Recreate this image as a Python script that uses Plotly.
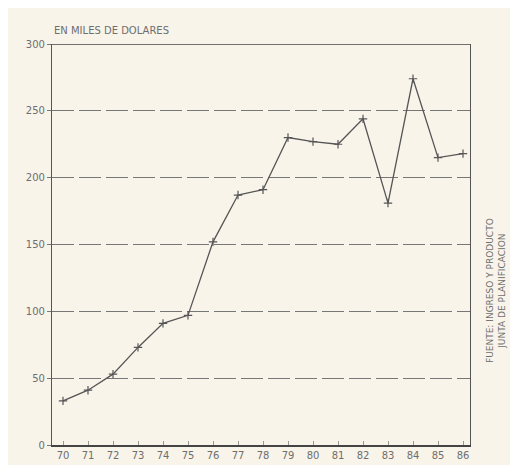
import plotly.graph_objects as go

years = list(range(70, 87))
year_labels = [str(y) for y in years]
values = [33, 41, 53, 73, 91, 97, 152, 187, 191, 230, 227, 225, 244, 181, 274, 215, 218]
y_ticks = [0, 50, 100, 150, 200, 250, 300]

grey = "#6e6e6e"
fig = go.Figure()
fig.add_trace(go.Scatter(
    x=years, y=values, mode="lines+markers",
    line=dict(color="#555555", width=1.3),
    marker=dict(symbol="cross-thin", size=6, line=dict(color="#555555", width=1.2)),
    showlegend=False,
))

fig.update_layout(
    width=518, height=465,
    margin=dict(l=44, r=56, t=36, b=20),
    paper_bgcolor="#f8f4ea", plot_bgcolor="#f8f4ea",
    font=dict(family="DejaVu Sans", size=10, color=grey),
    xaxis=dict(
        range=[69.56, 86.28], tickmode="array", tickvals=years, ticktext=year_labels,
        showgrid=False, zeroline=False, showline=True, linecolor="#444444", linewidth=1.5,
        mirror=False, ticks="inside", ticklen=4, tickcolor="#999999",
        tickfont=dict(size=10, color=grey),
    ),
    yaxis=dict(
        range=[0, 300], tickmode="array", tickvals=y_ticks,
        showgrid=True, gridcolor="#777777", griddash="22px,5px", gridwidth=1,
        zeroline=False, showline=True, linecolor="#555555", linewidth=1.2, mirror=True,
        ticks="outside", ticklen=4, tickcolor="#777777",
        tickfont=dict(size=10, color=grey),
    ),
    annotations=[
        dict(text="EN MILES DE DOLARES", x=0, y=1, xref="paper", yref="paper",
             xanchor="left", yanchor="bottom", yshift=6, showarrow=False,
             font=dict(size=10, color=grey)),
        dict(text="FUENTE: INGRESO Y PRODUCTO<br>JUNTA DE PLANIFICACION",
             x=1, y=0.384, xref="paper", yref="paper", xanchor="center", yanchor="middle",
             xshift=26, textangle=-90, showarrow=False, align="center",
             font=dict(size=9, color=grey)),
    ],
)
fig.add_shape(type="line", xref="paper", yref="y", x0=0, x1=1, y0=300, y1=300,
              line=dict(color="#444444", width=1.5))
fig.write_html("out.html")
